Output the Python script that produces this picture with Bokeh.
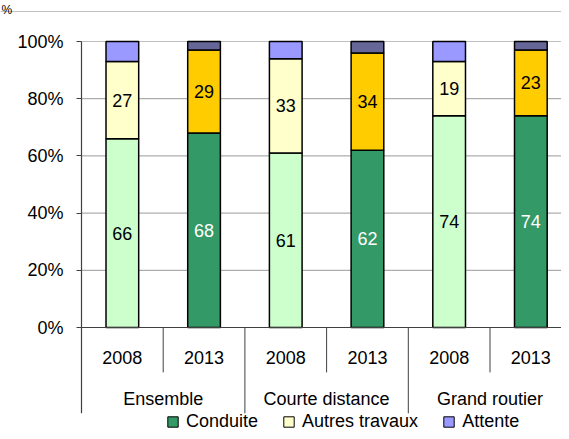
from bokeh.plotting import figure
from bokeh.models import (Range1d, LinearAxis, FixedTicker, PrintfTickFormatter,
                          Legend, LegendItem, ColumnDataSource, Span, Label)
from bokeh.embed import file_html
from bokeh.resources import INLINE
from bokeh.core.properties import value

# ---------------- data ----------------
groups = ["Ensemble", "Courte distance", "Grand routier"]
years = ["2008", "2013"]
conduite = [66, 68, 61, 62, 74, 74]
autres = [27, 29, 33, 34, 19, 23]
attente = [7, 3, 6, 4, 7, 3]
y_ticks = [0, 20, 40, 60, 80, 100]
series_names = ["Conduite", "Autres travaux", "Attente"]

# ---------------- styles ----------------
FONT = "Liberation Sans"
FS = "18px"
light = ["#CCFFCC", "#FFFFCC", "#9999FF"]   # 2008 bars
dark = ["#339966", "#FFCC00", "#666699"]    # 2013 bars
legend_colors = ["#339966", "#FFFFCC", "#9999FF"]

W, H = 561, 431
LEFT_PX, TOP_PX, ZERO_PX = 81, 41, 327
SLOT_PX = 81.7
n = len(groups) * len(years)
ppy = (ZERO_PX - TOP_PX) / 100.0
x_range = Range1d(-LEFT_PX / SLOT_PX, (W - LEFT_PX) / SLOT_PX)
y_top = 100 + TOP_PX / ppy
y_bot = -(H - ZERO_PX) / ppy
y_range = Range1d(y_bot, y_top)

p = figure(width=W, height=H, x_range=x_range, y_range=y_range,
           x_axis_type=None, y_axis_type=None, output_backend="svg",
           toolbar_location=None, min_border=0, outline_line_color=None,
           background_fill_color="white", border_fill_color="white")

# header rule and "%" unit label
p.add_layout(Span(location=y_top - 11 / ppy, dimension="width",
                  line_color="#C0C0C0", line_width=1))
p.add_layout(Label(x=1, y=H - 9, x_units="screen", y_units="screen", text="%",
                   text_baseline="alphabetic", text_font=FONT, text_font_size="12px",
                   text_color="black"))

# gridlines
grid_y = [t for t in y_ticks if t > 0]
grid_col = ["#C0C0C0" if t == max(y_ticks) else "#999999" for t in grid_y]
p.segment(x0=[0] * len(grid_y), x1=[n] * len(grid_y), y0=grid_y, y1=grid_y,
          line_color=grid_col, line_width=1)

# bars
xs, b_list, t_list, cols = [], [], [], []
for i in range(n):
    yi = i % len(years)
    pal = light if yi == 0 else dark
    segs = [conduite[i], autres[i], attente[i]]
    base = 0
    for k, v in enumerate(segs):
        xs.append(i + 0.5)
        b_list.append(base)
        t_list.append(base + v)
        cols.append(pal[k])
        base += v

src = ColumnDataSource(dict(x=xs, bottom=b_list, top=t_list, color=cols))
p.vbar(x="x", bottom="bottom", top="top", width=0.4, fill_color="color",
       line_color="black", line_width=1.5, source=src)

# value labels (Conduite & Autres travaux)
lx, ly, lt, lc = [], [], [], []
for i in range(n):
    yi = i % len(years)
    lx.append(i + 0.5)
    ly.append(conduite[i] / 2)
    lt.append(str(conduite[i]))
    lc.append("black" if yi == 0 else "white")
    lx.append(i + 0.5)
    ly.append(conduite[i] + autres[i] / 2)
    lt.append(str(autres[i]))
    lc.append("black")
p.text(x=lx, y=ly, text=lt, text_color=lc, text_align="center",
       text_baseline="middle", text_font=value(FONT), text_font_size=FS)

# axis lines and category separators
p.segment(x0=[0], x1=[0], y0=[-30], y1=[100], line_color="#404040", line_width=1.2)
p.segment(x0=[0], x1=[n], y0=[0], y1=[0], line_color="#404040", line_width=1.2)
year_sep = [g * len(years) + j for g in range(len(groups)) for j in range(1, len(years))]
group_sep = [g * len(years) for g in range(1, len(groups) + 1)]
p.segment(x0=year_sep, x1=year_sep, y0=[0] * len(year_sep), y1=[-15.7] * len(year_sep),
          line_color="#404040", line_width=1)
p.segment(x0=group_sep, x1=group_sep, y0=[0] * len(group_sep), y1=[-30] * len(group_sep),
          line_color="#404040", line_width=1)

# y axis
yaxis = LinearAxis(fixed_location=0, ticker=FixedTicker(ticks=y_ticks),
                   formatter=PrintfTickFormatter(format="%d%%"),
                   axis_line_color=None, major_tick_line_color="#404040",
                   major_tick_out=5, major_tick_in=0, minor_tick_line_color=None,
                   major_label_standoff=13, major_label_text_font=FONT,
                   major_label_text_font_size=FS, major_label_text_color="black")
p.add_layout(yaxis, "left")

# x axes: years and groups
year_ticks = [i + 0.5 for i in range(n)]
year_over = {t: years[i % len(years)] for i, t in enumerate(year_ticks)}
xaxis1 = LinearAxis(fixed_location=0, ticker=FixedTicker(ticks=year_ticks),
                    major_label_overrides=year_over, axis_line_color=None,
                    major_tick_line_color=None, major_tick_out=0, major_tick_in=0,
                    minor_tick_line_color=None, major_label_standoff=23,
                    major_label_text_font=FONT, major_label_text_font_size=FS,
                    major_label_text_color="black")
p.add_layout(xaxis1, "below")

group_ticks = [g * len(years) + len(years) / 2 for g in range(len(groups))]
group_over = {t: groups[g] for g, t in enumerate(group_ticks)}
xaxis2 = LinearAxis(fixed_location=0, ticker=FixedTicker(ticks=group_ticks),
                    major_label_overrides=group_over, axis_line_color=None,
                    major_tick_line_color=None, major_tick_out=0, major_tick_in=0,
                    minor_tick_line_color=None, major_label_standoff=61,
                    major_label_text_font=FONT, major_label_text_font_size=FS,
                    major_label_text_color="black")
p.add_layout(xaxis2, "below")

# legend (proxy renderer with no visible geometry)
nan = float("nan")
leg_src = ColumnDataSource(dict(l=[nan] * 3, r=[nan] * 3, b=[nan] * 3, t=[nan] * 3,
                                color=legend_colors))
leg_r = p.quad(left="l", right="r", bottom="b", top="t", fill_color="color",
               line_color="black", line_width=1, source=leg_src)
items = [LegendItem(label=name, renderers=[leg_r], index=k)
         for k, name in enumerate(series_names)]
legend = Legend(items=items, orientation="horizontal", location=(166, -1),
                glyph_width=13, glyph_height=13, label_standoff=7, spacing=24,
                padding=0, margin=0, border_line_color=None, background_fill_alpha=0,
                label_text_font=FONT, label_text_font_size=FS, label_height=14,
                label_text_color="black")
p.add_layout(legend)

open("out.html", "w").write(file_html(p, INLINE))
